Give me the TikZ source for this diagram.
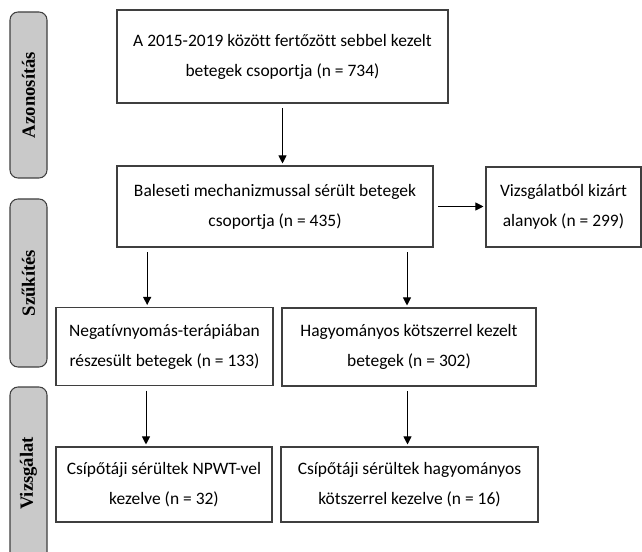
\documentclass[tikz,border=0pt]{standalone}
\usepackage{fontspec}
\setmainfont{Carlito}[Ligatures=NoCommon]
\newfontfamily\stagefont{Liberation Serif}
\usepackage{xcolor}
\usepackage{tikz}
\usetikzlibrary{arrows.meta,positioning,calc}
\definecolor{boxline}{HTML}{3F3F3F}
\definecolor{stagefill}{HTML}{C9C9C9}
\tikzset{
  box/.style={draw=boxline, line width=0.8pt, align=center, fill=white, inner sep=0pt, font=\fontsize{13.1}{22.5}\selectfont},
  stage/.style={draw=boxline, line width=0.8pt, rounded corners=6pt, fill=stagefill, rotate=90, inner sep=0pt, minimum height=27.75pt, font=\stagefont\bfseries\fontsize{14}{16}\selectfont},
  arrow/.style={-{Triangle[length=6pt, width=6pt]}, line width=0.75pt, draw=black, shorten <=3.5pt, shorten >=1.5pt}
}

\begin{document}
\begin{tikzpicture}[x=0.75pt, y=-0.75pt]
  \useasboundingbox (0,0) rectangle (642,552);

  \node[stage, minimum width=124.5pt] (azon) at (28.5,95) {Azonosítás};
  \node[stage, minimum width=126pt] (szuk) at (28.5,283) {Szűkítés};
  \node[stage, minimum width=129.75pt] (vizs) at (28.5,473.5) {Vizsgálat};

  \node[box, minimum width=248.25pt, minimum height=69.75pt] (ident) at (282.5,56.5) {A 2015-2019 között fertőzött sebbel kezelt\\betegek csoportja (n = 734)};
  \node[box, minimum width=237pt, minimum height=60.75pt] (narrow) at (275,206.5) {Baleseti mechanizmussal sérült betegek\\csoportja (n = 435)};
  \node[box, minimum width=116.25pt, minimum height=60pt] (excluded) at (563.5,207) {Vizsgálatból kizárt\\alanyok (n = 299)};
  \node[box, minimum width=162.75pt, minimum height=58.5pt] (npwt) at (164.5,346.5) {Negatívnyomás-terápiában\\részesült betegek (n = 133)};
  \node[box, minimum width=190.5pt, minimum height=58.5pt] (conv) at (409,347) {Hagyományos kötszerrel kezelt\\betegek (n = 302)};
  \node[box, minimum width=162pt, minimum height=56.25pt] (npwthip) at (164,484.5) {Csípőtáji sérültek NPWT-vel\\kezelve (n = 32)};
  \node[box, minimum width=192.75pt, minimum height=56.25pt] (convhip) at (409.5,484.5) {Csípőtáji sérültek hagyományos\\kötszerrel kezelve (n = 16)};

  \draw[arrow] (ident.south) -- (ident.south |- narrow.north);
  \draw[arrow] (narrow.east) -- (narrow.east -| excluded.west);
  \draw[arrow] ([xshift=-13pt]npwt.north |- narrow.south) -- ([xshift=-13pt]npwt.north);
  \draw[arrow] ([xshift=-1.5pt]conv.north |- narrow.south) -- ([xshift=-1.5pt]conv.north);
  \draw[arrow] ([xshift=-13.5pt]npwthip.north |- npwt.south) -- ([xshift=-13.5pt]npwthip.north);
  \draw[arrow] ([xshift=-1.5pt]convhip.north |- conv.south) -- ([xshift=-1.5pt]convhip.north);
\end{tikzpicture}
\end{document}
